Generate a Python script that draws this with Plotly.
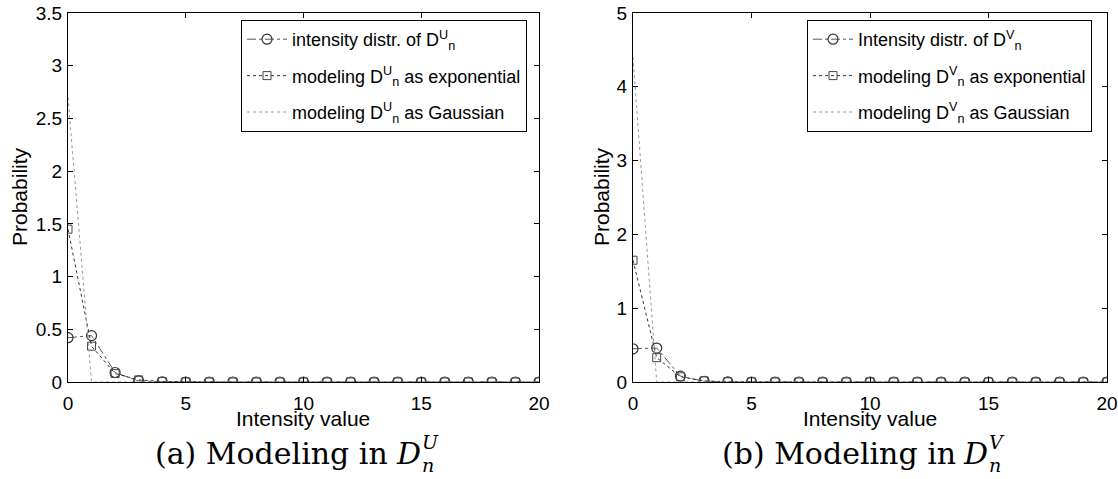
import plotly.graph_objects as go

# ---- data ----
intensity = list(range(21))

# panel (a): D_n^U
u_hist = [0.42, 0.44, 0.09, 0.01, 0.002] + [0.0] * 16
u_exp = [1.45, 0.34, 0.08, 0.02, 0.005, 0.001] + [0.0] * 15
u_gauss = [2.7, 0.0] + [0.0] * 19

# panel (b): D_n^V
v_hist = [0.45, 0.46, 0.08, 0.01, 0.002] + [0.0] * 16
v_exp = [1.65, 0.33, 0.07, 0.015, 0.003, 0.001] + [0.0] * 15
v_gauss = [4.4, 0.0] + [0.0] * 19

u_names = ["intensity distr. of D<sup>U</sup><sub>n</sub>",
           "modeling D<sup>U</sup><sub>n</sub> as exponential",
           "modeling D<sup>U</sup><sub>n</sub> as Gaussian"]
v_names = ["Intensity distr. of D<sup>V</sup><sub>n</sub>",
           "modeling D<sup>V</sup><sub>n</sub> as exponential",
           "modeling D<sup>V</sup><sub>n</sub> as Gaussian"]

u_yticks = [0, 0.5, 1, 1.5, 2, 2.5, 3, 3.5]
v_yticks = [0, 1, 2, 3, 4, 5]
x_ticks = [0, 5, 10, 15, 20]

W, H = 1118, 479
FONT = "Liberation Sans"
SERIF = "DejaVu Serif"


def fx(p):
    return p / W


def fy(p):
    return 1 - p / H


fig = go.Figure()


def add_panel(hist, expo, gauss, names, xa, ya, leg):
    fig.add_trace(go.Scatter(
        x=intensity, y=hist, name=names[0], xaxis=xa, yaxis=ya, legend=leg,
        legendgroup=leg + "a", mode="lines+markers",
        line=dict(color="#555555", width=1, dash="dashdot"),
        marker=dict(symbol="circle-open", size=10, color="#333333", line=dict(width=1.2)),
    ))
    fig.add_trace(go.Scatter(
        x=intensity, y=expo, name=names[1], xaxis=xa, yaxis=ya, legend=leg,
        legendgroup=leg + "b", mode="lines+markers",
        line=dict(color="#333333", width=1, dash="dot"),
        marker=dict(symbol="square-open", size=8, color="#444444", line=dict(width=1)),
    ))
    fig.add_trace(go.Scatter(
        x=intensity, y=gauss, name=names[2], xaxis=xa, yaxis=ya, legend=leg,
        legendgroup=leg + "c", mode="lines",
        line=dict(color="#999999", width=1, dash="dot"),
    ))


add_panel(u_hist, u_exp, u_gauss, u_names, "x", "y", "legend")
add_panel(v_hist, v_exp, v_gauss, v_names, "x2", "y2", "legend2")

axis_common = dict(
    showline=True, linecolor="black", linewidth=1.3, mirror="ticks",
    ticks="inside", ticklen=5, tickcolor="black", showgrid=False, zeroline=False,
    automargin=False, ticklabeloverflow="allow",
    tickfont=dict(family=FONT, size=19, color="black"),
)

legend_common = dict(xanchor="left", yanchor="top", bordercolor="black", borderwidth=1,
                     bgcolor="white", font=dict(family=FONT, size=18, color="black"),
                     tracegroupgap=10, itemwidth=40)

fig.update_layout(
    width=W, height=H, margin=dict(l=0, r=0, t=0, b=0, autoexpand=False),
    paper_bgcolor="white", plot_bgcolor="white",
    font=dict(family=FONT, color="black"),
    xaxis=dict(domain=[fx(68), fx(539)], range=[0, 20], tickvals=x_ticks, anchor="y",
               ticklabelstandoff=4, **axis_common),
    yaxis=dict(domain=[fy(382), fy(13)], range=[0, 3.5], tickvals=u_yticks, anchor="x",
               ticklabelstandoff=1, **axis_common),
    xaxis2=dict(domain=[fx(633), fx(1107)], range=[0, 20], tickvals=x_ticks, anchor="y2",
                ticklabelstandoff=4, **axis_common),
    yaxis2=dict(domain=[fy(382), fy(13)], range=[0, 5], tickvals=v_yticks, anchor="x2",
                ticklabelstandoff=1, **axis_common),
    legend=dict(x=fx(241), y=fy(20), **legend_common),
    legend2=dict(x=fx(807), y=fy(20), **legend_common),
    showlegend=True,
)


def text(t, x, y, size, family=FONT, xanchor="center", angle=0):
    fig.add_annotation(text=t, x=fx(x), y=fy(y), xref="paper", yref="paper",
                       xanchor=xanchor, yanchor="middle", showarrow=False, textangle=angle,
                       font=dict(family=family, size=size, color="black"))


# axis titles
text("Intensity value", 303, 418, 21)
text("Intensity value", 870, 418, 21)
text("Probability", 19, 197, 21, angle=-90)
text("Probability", 601, 197, 21, angle=-90)

# captions
for lab, sup, x0 in [("(a)", "U", 153), ("(b)", "V", 720)]:
    text(lab + " Modeling in", x0, 453, 30, family=SERIF, xanchor="left")
    text("<i>D</i>", x0 + 241, 453, 30, family=SERIF, xanchor="left")
    text("<i>" + sup + "</i>", x0 + 267, 442, 19, family=SERIF, xanchor="left")
    text("<i>n</i>", x0 + 267, 465, 19, family=SERIF, xanchor="left")

fig.write_html("out.html", config={"displayModeBar": False},
               post_script="document.body.style.margin='0';")
